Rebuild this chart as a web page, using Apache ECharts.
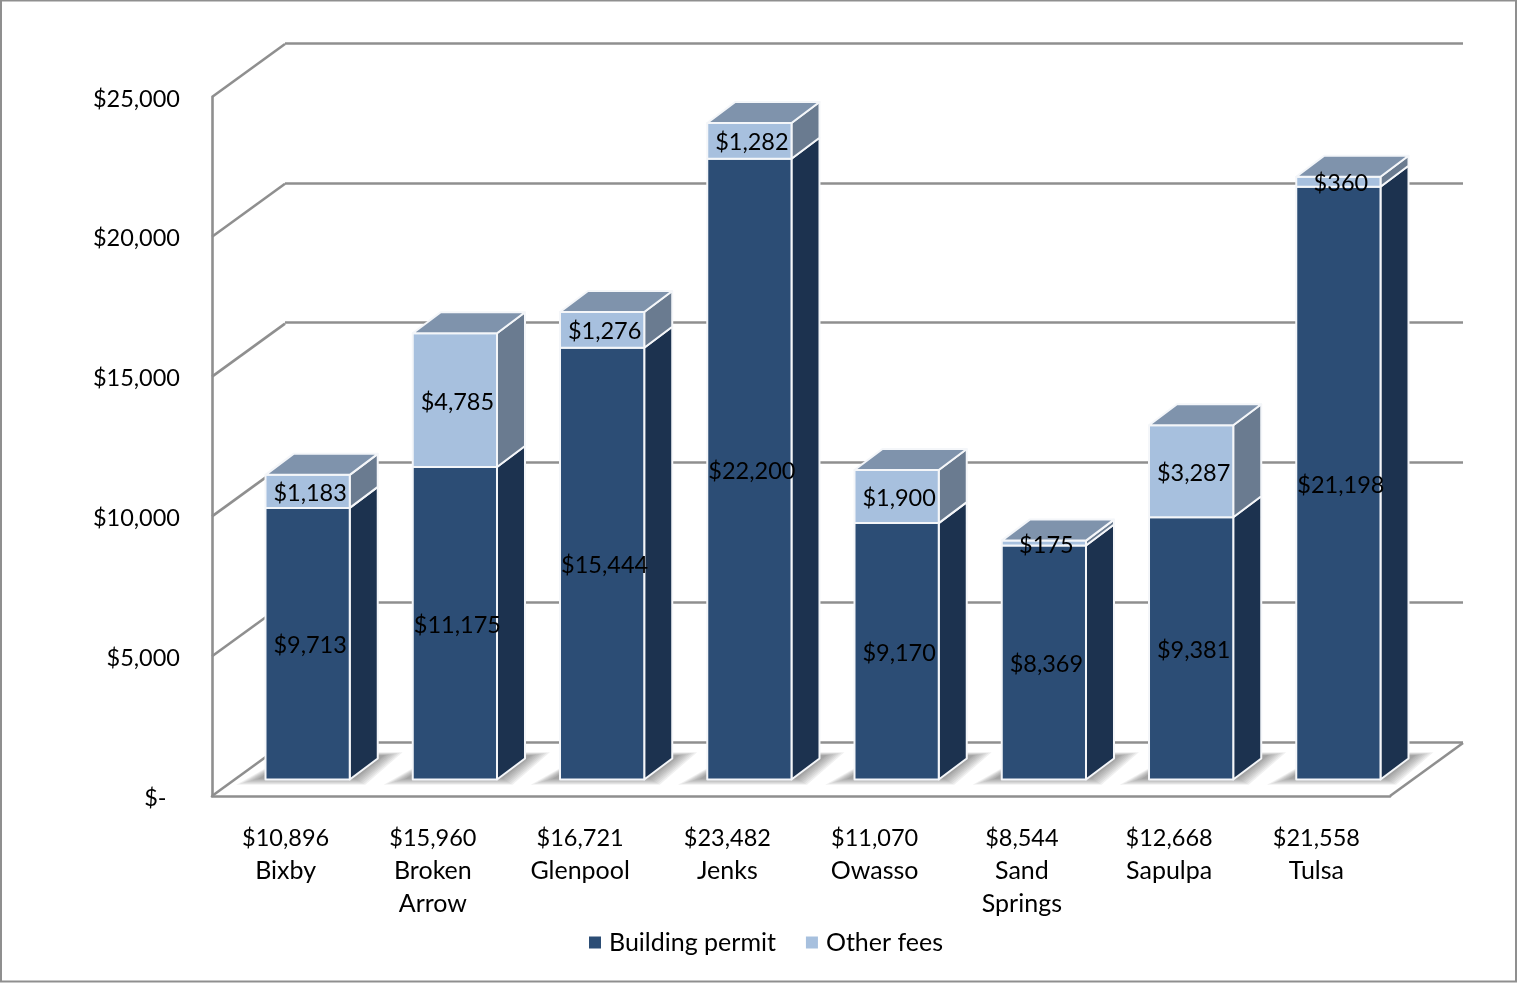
<!DOCTYPE html>
<html>
<head>
<meta charset="utf-8">
<style>html,body{margin:0;padding:0;background:#fff}#chart{width:1517px;height:983px}</style>
<script src="https://cdn.jsdelivr.net/npm/echarts@6/dist/echarts.min.js"></script>
</head>
<body>
<div id="chart"></div>
<script>
const places = ['Bixby', 'Broken\nArrow', 'Glenpool', 'Jenks', 'Owasso', 'Sand\nSprings', 'Sapulpa', 'Tulsa'];
const totalLabels = ['$10,896', '$15,960', '$16,721', '$23,482', '$11,070', '$8,544', '$12,668', '$21,558'];
const buildingPermit = [9713, 11175, 15444, 22200, 9170, 8369, 9381, 21198];
const otherFees = [1183, 4785, 1276, 1282, 1900, 175, 3287, 360];
const yTicks = [0, 5000, 10000, 15000, 20000, 25000];

const FONT = 'Lato';
const GRAY = '#8f8f8f';
const SHIFT_X = 22, SHIFT_Y = 16.5, DEPTH_X = 28, DEPTH_Y = 21;
const WALL_X = 73, WALL_Y = 53, BAR_RATIO = 0.572;
const money = v => '$' + v.toLocaleString('en-US');

function barSeries(name, front, side, top) {
  return {
    name, type: 'custom', xAxisIndex: 0, yAxisIndex: 0, z: 5, clip: false,
    itemStyle: { color: front },
    data: places.map((_, i) => {
      const low = name === 'Building permit' ? 0 : buildingPermit[i];
      const val = name === 'Building permit' ? buildingPermit[i] : otherFees[i];
      return [i, low, low + val, val];
    }),
    encode: { x: 0, y: 2 },
    renderItem(params, api) {
      const a = api.coord([api.value(0), api.value(1)]);
      const b = api.coord([api.value(0), api.value(2)]);
      const w = api.size([1, 0])[0] * BAR_RATIO;
      const xl = a[0] + SHIFT_X - w / 2, xr = xl + w;
      const yb = a[1] - SHIFT_Y, yt = b[1] - SHIFT_Y;
      const edge = { stroke: '#f4f6f9', lineWidth: 2, lineJoin: 'round' };
      const children = [
        { type: 'polygon', shape: { points: [[xr, yb], [xr + DEPTH_X, yb - DEPTH_Y], [xr + DEPTH_X, yt - DEPTH_Y], [xr, yt]] },
          style: Object.assign({ fill: side }, edge) },
        { type: 'rect', shape: { x: xl, y: yt, width: w, height: yb - yt },
          style: Object.assign({ fill: front }, edge) }
      ];
      if (top) {
        children.push({ type: 'polygon', shape: { points: [[xl, yt], [xr, yt], [xr + DEPTH_X, yt - DEPTH_Y], [xl + DEPTH_X, yt - DEPTH_Y]] },
          style: Object.assign({ fill: top }, edge) });
      }
      children.push({ type: 'text', z2: 10,
        style: { text: money(api.value(3)), x: (xl + xr) / 2 + 2.5, y: (yb + yt) / 2 + 2,
          align: 'center', verticalAlign: 'middle', fill: '#000', font: '23.5px ' + FONT } });
      return { type: 'group', children };
    }
  };
}

const SHADOW_STEPS = [21, 18, 15, 12, 9, 6, 3, 1];
const option = {
  backgroundColor: '#fff',
  animation: false,
  textStyle: { fontFamily: FONT },
  graphic: [{ type: 'rect', silent: true, z: -10,
    shape: { x: 1, y: 0.5, width: 1515, height: 981 },
    style: { fill: 'none', stroke: GRAY, lineWidth: 2 } }],
  legend: {
    data: ['Building permit', 'Other fees'], left: 584, top: 925, icon: 'rect',
    itemWidth: 12, itemHeight: 12, itemGap: 30,
    textStyle: { fontFamily: FONT, fontSize: 25, color: '#000', padding: [0, 0, 0, 3] }
  },
  grid: [
    { left: 212, top: 97, width: 1178, height: 699 },
    { left: 285, top: 43, width: 1178, height: 699 }
  ],
  xAxis: [
    { type: 'category', gridIndex: 0, data: places.map((p, i) => totalLabels[i] + '\n' + p),
      axisLine: { lineStyle: { color: GRAY, width: 2.6 } }, axisTick: { show: false },
      axisLabel: { interval: 0, margin: 26, color: '#000', fontFamily: FONT,
        formatter: v => {
          const parts = v.split('\n');
          return parts.map((s, i) => (i === 0 ? '{t|' : '{n|') + s + '}').join('\n');
        },
        rich: {
          t: { fontFamily: FONT, fontSize: 23.5, lineHeight: 33, color: '#000' },
          n: { fontFamily: FONT, fontSize: 25, lineHeight: 32.5, color: '#000' }
        } } },
    { type: 'value', gridIndex: 1, min: 0, max: 1, show: false }
  ],
  yAxis: [
    { type: 'value', gridIndex: 0, min: 0, max: 25000, interval: 5000,
      axisLine: { show: true, lineStyle: { color: GRAY, width: 2.6 } }, axisTick: { show: false },
      splitLine: { show: false },
      axisLabel: { margin: 32, color: '#000', fontFamily: FONT, fontSize: 23.5,
        verticalAlign: 'top', lineHeight: 4,
        formatter: v => v === 0 ? '$-\u00a0\u00a0\u200a' : money(v) } },
    { type: 'value', gridIndex: 1, min: 0, max: 25000, interval: 5000,
      axisLine: { show: false }, axisTick: { show: false }, axisLabel: { show: false },
      splitLine: { show: true, lineStyle: { color: GRAY, width: 2.6 } } }
  ],
  series: [
    { type: 'custom', name: 'wall', xAxisIndex: 0, yAxisIndex: 0, z: 1, clip: false, silent: true,
      data: yTicks.map(v => [0, v]),
      renderItem(params, api) {
        const p = api.coord([0, api.value(1)]);
        const x0 = p[0] - api.size([1, 0])[0] / 2;
        return { type: 'line', shape: { x1: x0, y1: p[1], x2: x0 + WALL_X, y2: p[1] - WALL_Y },
          style: { stroke: GRAY, lineWidth: 2.6 } };
      } },
    { type: 'custom', name: 'floor edge', xAxisIndex: 0, yAxisIndex: 0, z: 1, clip: false, silent: true,
      data: [[places.length - 1, 0]],
      renderItem(params, api) {
        const p = api.coord([api.value(0), 0]);
        const x0 = p[0] + api.size([1, 0])[0] / 2;
        return { type: 'line', shape: { x1: x0, y1: p[1], x2: x0 + WALL_X, y2: p[1] - WALL_Y },
          style: { stroke: GRAY, lineWidth: 2.6 } };
      } },
    { type: 'custom', name: 'floor shadow', xAxisIndex: 0, yAxisIndex: 0, z: 2, clip: false, silent: true,
      data: places.map((_, i) => [i, 0]),
      renderItem(params, api) {
        const p = api.coord([api.value(0), 0]);
        const w = api.size([1, 0])[0] * BAR_RATIO;
        const xl = p[0] + SHIFT_X - w / 2, xr = xl + w, yb = p[1] - SHIFT_Y;
        const children = SHADOW_STEPS.map(e => ({
          type: 'polygon',
          shape: { points: [
            [xl - 6 - e * 1.1, yb - 1 + e * 0.3], [xr + 5 + e * 0.5, yb - 1 + e * 0.3],
            [xr + DEPTH_X + 6 + e * 0.9, yb - DEPTH_Y - 3 - e * 0.15], [xl + DEPTH_X, yb - DEPTH_Y - 3 - e * 0.15]
          ] },
          style: { fill: 'rgba(90,90,90,0.09)' }
        }));
        return { type: 'group', children };
      } },
    barSeries('Building permit', '#2c4d75', '#1c324f', null),
    barSeries('Other fees', '#a7c0de', '#6a7b90', '#7f93ac')
  ]
};
const chart = echarts.init(document.getElementById('chart'), null, { renderer: 'canvas' });
chart.setOption(option);
</script>
</body>
</html>
